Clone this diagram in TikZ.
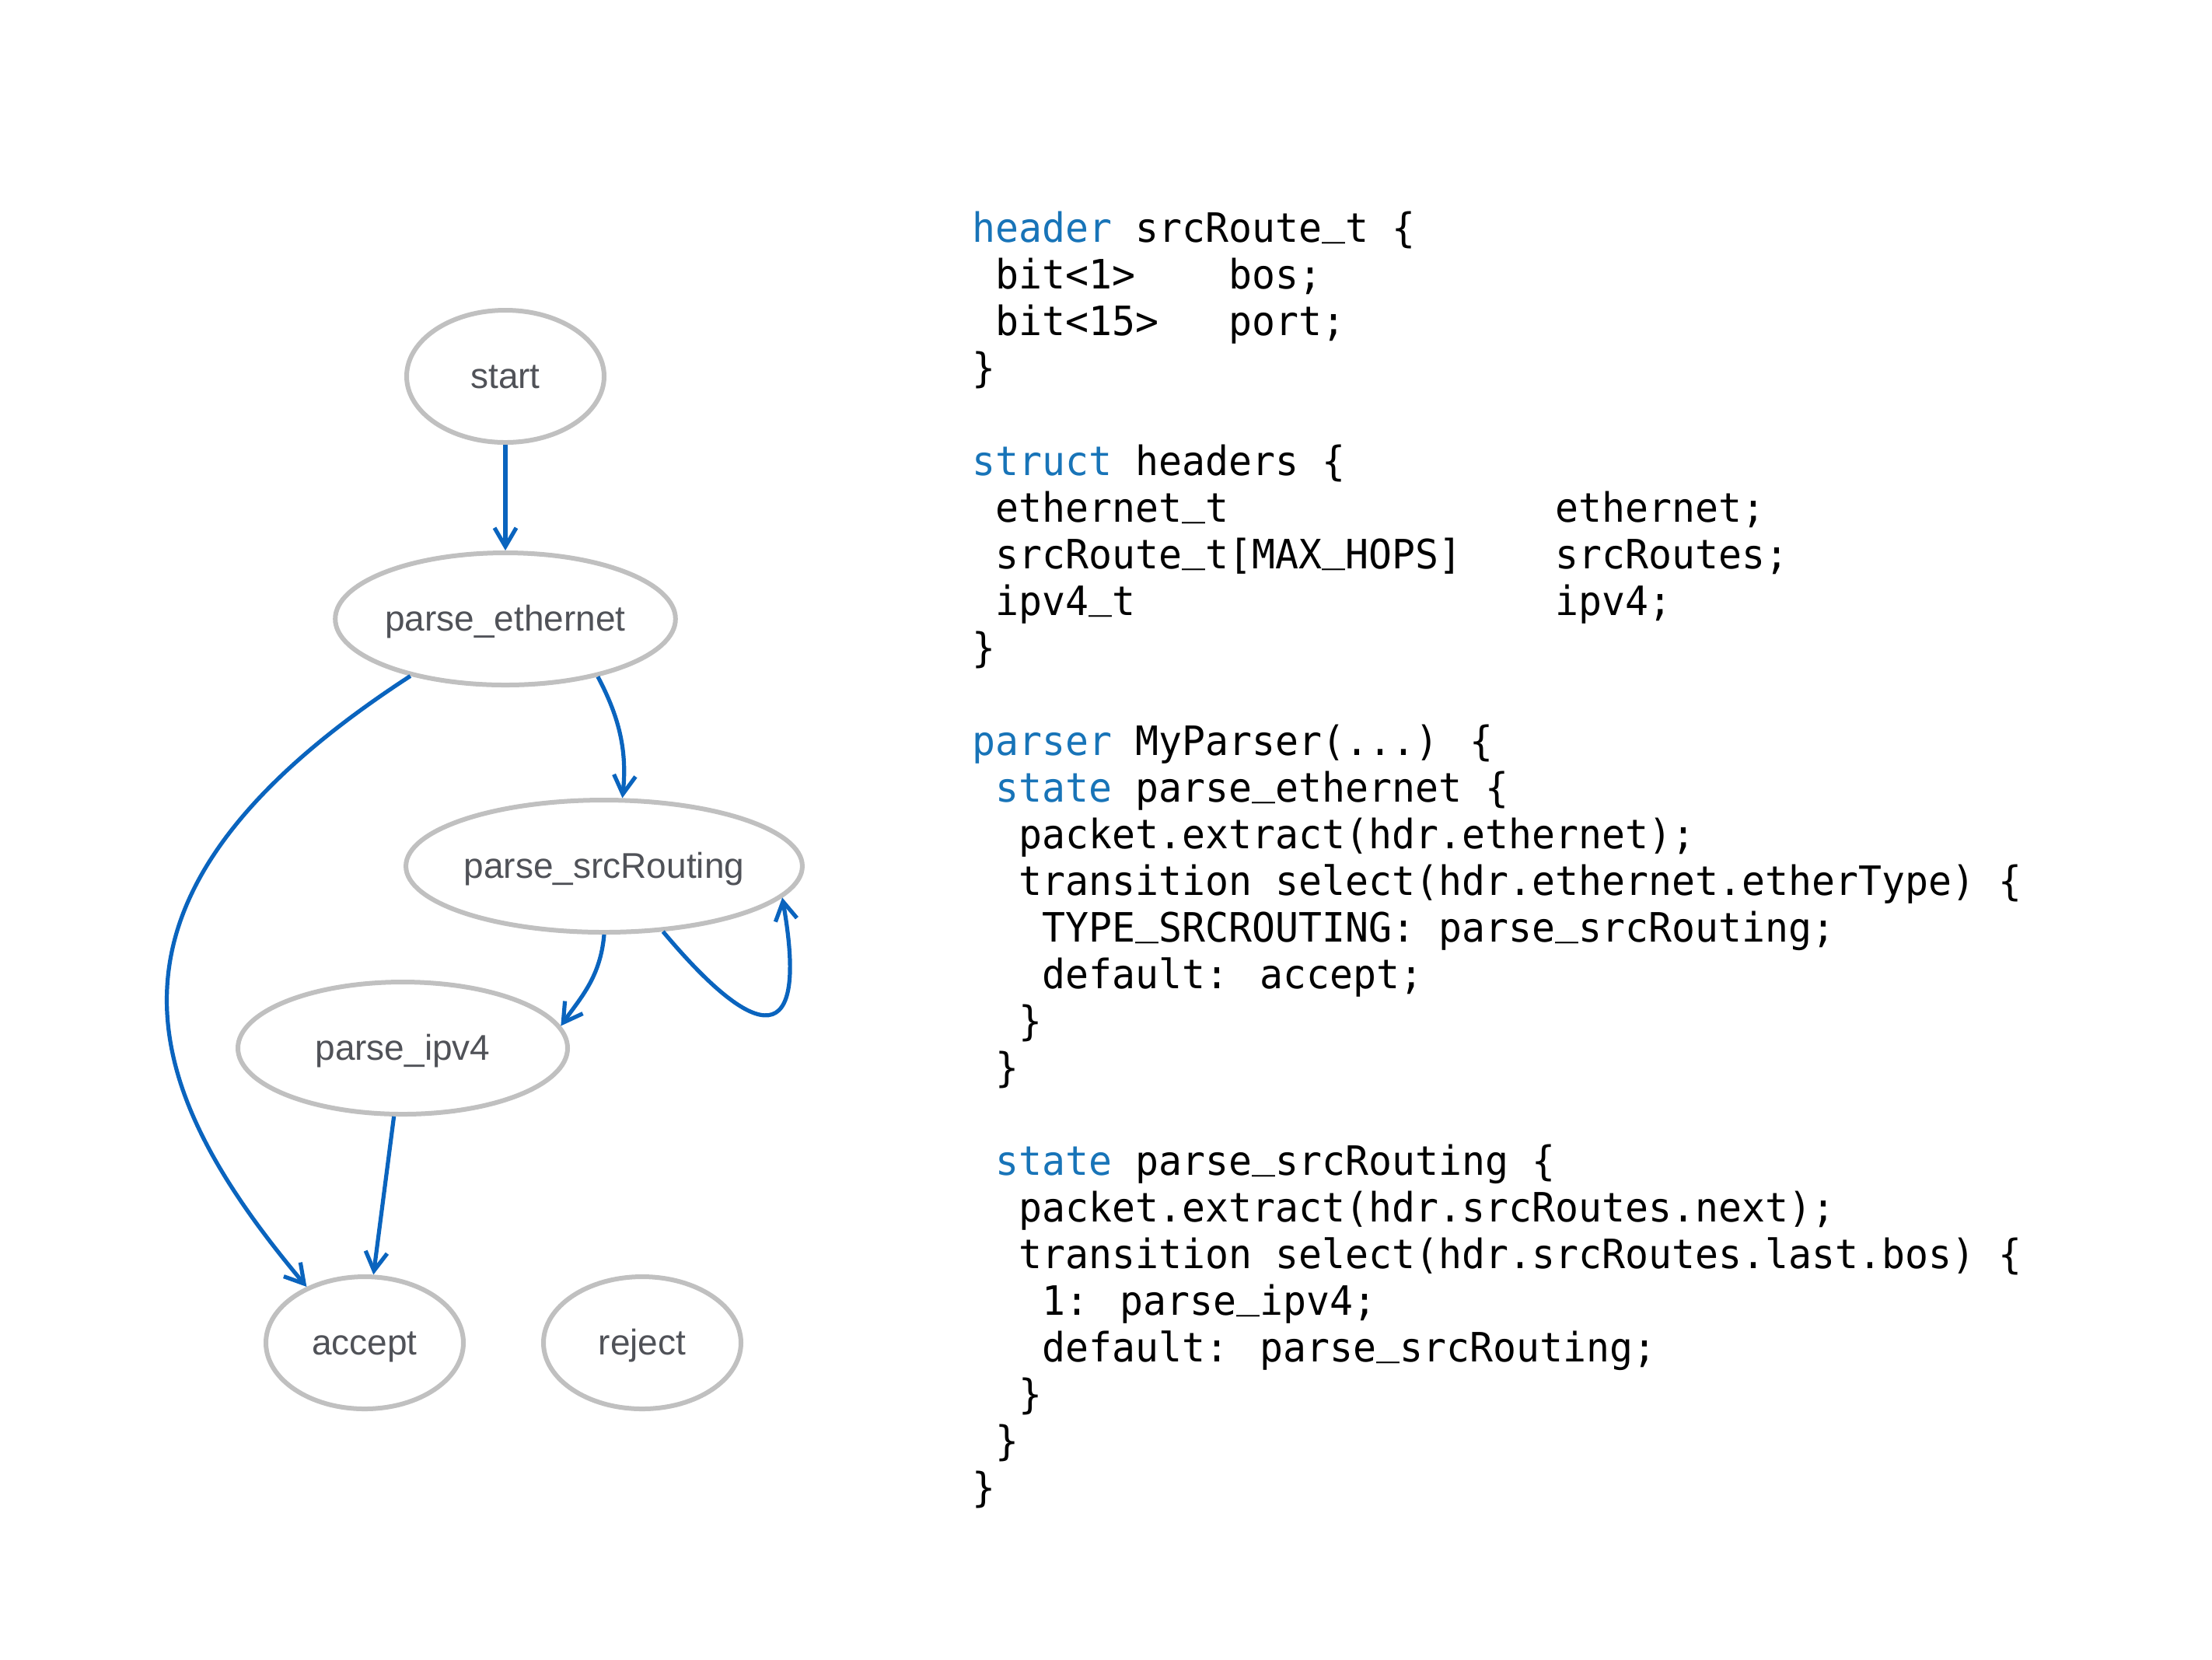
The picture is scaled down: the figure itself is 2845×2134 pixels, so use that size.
\documentclass[tikz,border=0pt]{standalone}
\usepackage{fontspec}
\usetikzlibrary{shapes.geometric,arrows.meta}
\newfontfamily\codefont[FakeStretch=0.958]{DejaVu Sans Mono}
\newfontfamily\labelfont{Liberation Sans}
\definecolor{edgeblue}{RGB}{10,100,190}
\definecolor{kwblue}{RGB}{24,116,184}
\definecolor{nodegray}{RGB}{192,192,192}
\definecolor{labelgray}{RGB}{80,82,88}
\newcommand{\kw}[1]{{\color{kwblue}#1}}
\newcommand{\us}{\raisebox{0.18em}{\_}}
\begin{document}
\begin{tikzpicture}[x=0.25pt,y=0.25pt,
  stnode/.style={ellipse, draw=nodegray, line width=1.5pt, inner sep=0pt,
    minimum height=42.5pt, text height=9pt, text depth=1.2pt,
    font=\labelfont\fontsize{11.5}{13}\selectfont, text=labelgray},
  conn/.style={draw=edgeblue, line width=1.3pt, -{Straight Barb[length=6pt,width=7pt]}},
  codeline/.style={anchor=base west, inner sep=0pt, font=\codefont\fontsize{13}{15}\selectfont}
]
\useasboundingbox (0,0) rectangle (2845,-2134);
\fill[white] (0,0) rectangle (2845,-2134);

% states
\node[stnode, minimum width=63.5pt]  (start) at (650,-484)  {start};
\node[stnode, minimum width=105.5pt] (pe)    at (650,-796)  {parse\_ethernet};
\node[stnode, minimum width=127pt]   (psr)   at (777,-1114) {parse\_srcRouting};
\node[stnode, minimum width=106pt]   (pip)   at (518,-1348) {parse\_ipv4};
\node[stnode, minimum width=63.5pt]  (acc)   at (469,-1727) {accept};
\node[stnode, minimum width=63.5pt]  (rej)   at (826,-1727) {reject};

% transitions
\draw[conn] (start) -- (pe);
\draw[conn] (pe.-32) .. controls +(-62:60) and +(84:60) .. (psr.75);
\draw[conn] (pe.-149) .. controls +(-147:520) and +(130:340) .. (acc.136);
\draw[conn] (psr.-90) .. controls +(-95:55) and +(55:45) .. (pip.8);
\draw[conn] (psr.-48) .. controls +(-50:190) and +(-80:200) .. (psr.-10);
\draw[conn] (pip) -- (acc);

% code
\node[codeline] (l1)  at (1250,-311)  {\kw{header} srcRoute\us t \{};
\node[codeline] (l2)  at (1280,-371)  {bit<1>~~~~bos;};
\node[codeline] (l3)  at (1280,-431)  {bit<15>~~~port;};
\node[codeline] (l4)  at (1250,-491)  {\}};
\node[codeline] (l6)  at (1250,-611)  {\kw{struct} headers \{};
\node[codeline] (l7)  at (1280,-671)  {ethernet\us t~~~~~~~~~~~~~~ethernet;};
\node[codeline] (l8)  at (1280,-731)  {srcRoute\us t[MAX\us HOPS]~~~~srcRoutes;};
\node[codeline] (l9)  at (1280,-791)  {ipv4\us t~~~~~~~~~~~~~~~~~~ipv4;};
\node[codeline] (l10) at (1250,-851)  {\}};
\node[codeline] (l12) at (1250,-971)  {\kw{parser} MyParser(...) \{};
\node[codeline] (l13) at (1280,-1031) {\kw{state} parse\us ethernet \{};
\node[codeline] (l14) at (1310,-1091) {packet.extract(hdr.ethernet);};
\node[codeline] (l15) at (1310,-1151) {transition select(hdr.ethernet.etherType) \{};
\node[codeline] (l16) at (1340,-1211) {TYPE\us SRCROUTING: parse\us srcRouting;};
\node[codeline] (l17) at (1340,-1271) {default: accept;};
\node[codeline] (l18) at (1310,-1331) {\}};
\node[codeline] (l19) at (1280,-1391) {\}};
\node[codeline] (l21) at (1280,-1511) {\kw{state} parse\us srcRouting \{};
\node[codeline] (l22) at (1310,-1571) {packet.extract(hdr.srcRoutes.next);};
\node[codeline] (l23) at (1310,-1631) {transition select(hdr.srcRoutes.last.bos) \{};
\node[codeline] (l24) at (1340,-1691) {1: parse\us ipv4;};
\node[codeline] (l25) at (1340,-1751) {default: parse\us srcRouting;};
\node[codeline] (l26) at (1310,-1811) {\}};
\node[codeline] (l27) at (1280,-1871) {\}};
\node[codeline] (l28) at (1250,-1931) {\}};
\end{tikzpicture}
\end{document}
